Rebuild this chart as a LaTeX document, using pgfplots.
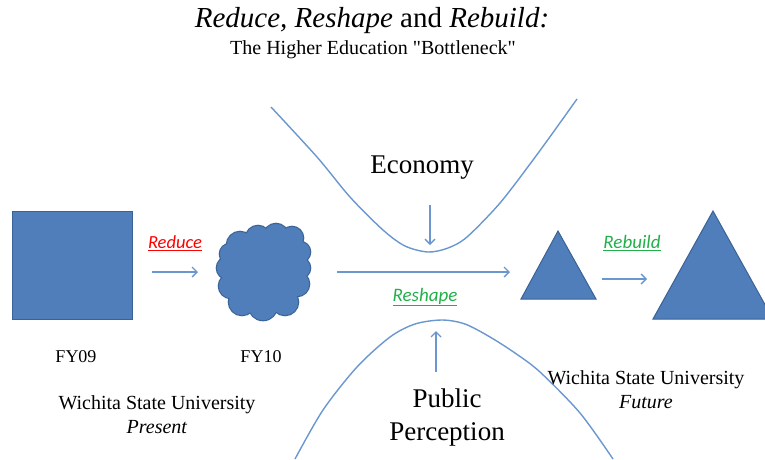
\documentclass[border=0pt]{standalone}
\usepackage{pgfplots}
\pgfplotsset{compat=1.18}
\usepackage{fontspec}
\setmainfont{Liberation Serif}
\newfontfamily\calib{Carlito}
\usetikzlibrary{arrows.meta}
\definecolor{shp}{HTML}{4F7EBB}
\definecolor{shpb}{HTML}{3A6295}
\definecolor{ln}{HTML}{6A97CF}
\definecolor{grn}{HTML}{22B04A}
\pgfplotsset{
  cloudA/.style={only marks, mark=*, mark size=#1, mark options={fill=shp, draw=shpb, line width=2.6pt}},
  cloudB/.style={only marks, mark=*, mark size=#1, mark options={fill=shp, draw=shp, line width=0.3pt}},
}
\begin{document}
\begin{tikzpicture}
\begin{axis}[hide axis, scale only axis, width=765pt, height=459pt,
  xmin=0, xmax=765, ymin=0, ymax=459, y dir=reverse, clip=true]
\addplot[draw=none, forget plot] coordinates {(0,0) (765,459)};
% square FY09
\addplot[fill=shp, draw=shpb, line width=1pt] coordinates {(12,211) (132,211) (132,319) (12,319)} -- cycle;
% cloud FY10 : pass 1 with border
\addplot[cloudA=10] coordinates {(300,252) (300,268) (230,254)};
\addplot[cloudA=11] coordinates {(292,238) (228,268)};
\addplot[cloudA=12] coordinates {(258,238) (276,236) (297,284) (231,286)};
\addplot[cloudA=13] coordinates {(240,245) (285,302) (242,302)};
\addplot[cloudA=14] coordinates {(263,306)};
% cloud pass 2 fill only
\addplot[cloudB=35] coordinates {(265,272)};
\addplot[cloudB=10] coordinates {(300,252) (300,268) (230,254)};
\addplot[cloudB=11] coordinates {(292,238) (228,268)};
\addplot[cloudB=12] coordinates {(258,238) (276,236) (297,284) (231,286)};
\addplot[cloudB=13] coordinates {(240,245) (285,302) (242,302)};
\addplot[cloudB=14] coordinates {(263,306)};
% triangles
\addplot[fill=shp, draw=shpb, line width=1pt] coordinates {(558,231) (596,299) (521,299)} -- cycle;
\addplot[fill=shp, draw=shpb, line width=1pt] coordinates {(713,211) (773,319) (653,319)} -- cycle;
% bottleneck curves
\addplot[ln, line width=1.4pt, smooth, tension=0.5] coordinates {
  (271,107) (317,157) (350,197) (383,230) (405,246) (428,252) (448,248) (467,237)
  (500,203) (533,160) (557,127) (577,99)};
\addplot[ln, line width=1.4pt, smooth, tension=0.5] coordinates {
  (295,459) (323,410) (357,367) (390,337) (415,324) (442,320) (465,324) (490,337)
  (515,353) (540,372) (580,413) (613,459)};
% arrows
\addplot[ln, line width=1.4pt, -{Straight Barb[length=5pt,width=10pt]}] coordinates {(152,272) (198,272)};
\addplot[ln, line width=1.4pt, -{Straight Barb[length=5pt,width=10pt]}] coordinates {(337,272) (510,272)};
\addplot[ln, line width=1.4pt, -{Straight Barb[length=5pt,width=10pt]}] coordinates {(602,279) (647,279)};
\addplot[ln, line width=1.4pt, -{Straight Barb[length=5pt,width=10pt]}] coordinates {(430,205) (430,245)};
\addplot[ln, line width=1.4pt, -{Straight Barb[length=5pt,width=10pt]}] coordinates {(436,372) (436,331)};
% labels
\node at (axis cs:372,21) {\fontsize{29}{34}\selectfont\textit{Reduce, Reshape} and \textit{Rebuild:}};
\node at (axis cs:373,50) {\fontsize{20}{24}\selectfont The Higher Education \textquotedbl Bottleneck\textquotedbl};
\node at (axis cs:175,243) {\calib\fontsize{18.5}{22}\selectfont\color{red}\underline{\textit{Reduce}}};
\node at (axis cs:425,297) {\calib\fontsize{19}{22}\selectfont\color{grn}\underline{\textit{Reshape}}};
\node at (axis cs:632,243) {\calib\fontsize{19}{22}\selectfont\color{grn}\underline{\textit{Rebuild}}};
\node at (axis cs:422,168) {\fontsize{27}{32}\selectfont Economy};
\node[align=center, font=\fontsize{27}{33}\selectfont] at (axis cs:447,417) {Public\\Perception};
\node at (axis cs:76,357) {\fontsize{18}{22}\selectfont FY09};
\node at (axis cs:261,357) {\fontsize{18}{22}\selectfont FY10};
\node[align=center, font=\fontsize{20}{24}\selectfont] at (axis cs:157,415) {Wichita State University\\\textit{Present}};
\node[align=center, font=\fontsize{20}{24}\selectfont] at (axis cs:646,390) {Wichita State University\\\textit{Future}};
\end{axis}
\end{tikzpicture}
\end{document}
